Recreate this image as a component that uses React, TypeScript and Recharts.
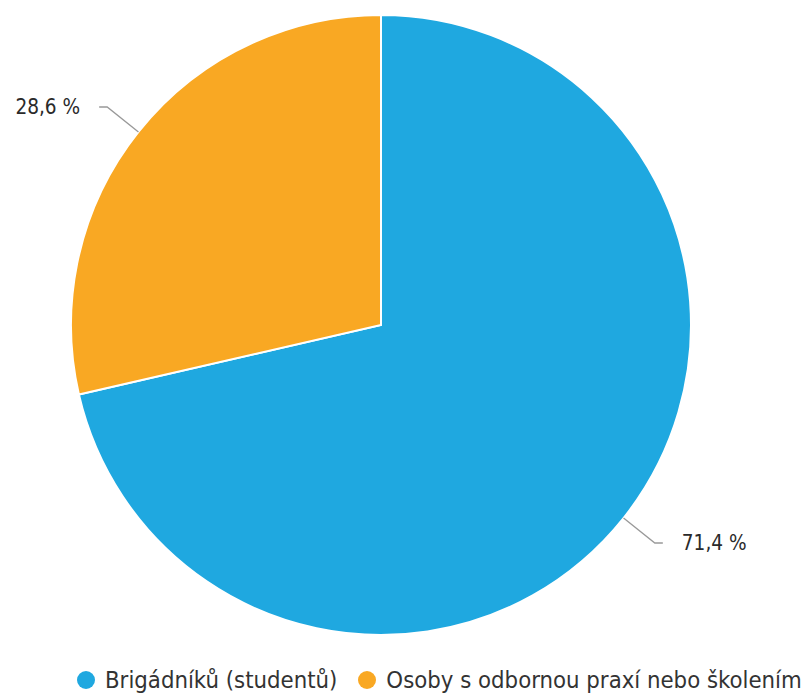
import { PieChart, Pie, Cell, Legend } from "recharts";

const categories = ["Brigádníků (studentů)", "Osoby s odbornou praxí nebo školením"];
const shares = [71.4, 28.6];
const colors = ["#1fa8e0", "#f9a823"];

const data = categories.map((name, i) => ({ name, value: shares[i] }));

const RAD = Math.PI / 180;
const FONT = "'DejaVu Sans Condensed', 'DejaVu Sans', sans-serif";

function renderLabel(props: any) {
  const { cx, cy, midAngle, outerRadius, value } = props;
  const cos = Math.cos(-midAngle * RAD);
  const sin = Math.sin(-midAngle * RAD);
  const sx = cx + outerRadius * cos;
  const sy = cy + outerRadius * sin;
  const mx = cx + (outerRadius + 40) * cos;
  const my = cy + (outerRadius + 40) * sin;
  const dir = cos >= 0 ? 1 : -1;
  const ex = mx + dir * 8;
  const tx = ex + dir * 19;
  return (
    <g>
      <path
        d={`M${sx},${sy}L${mx},${my}L${ex},${my}`}
        stroke="#999"
        strokeWidth={1.3}
        fill="none"
      />
      <text
        x={tx}
        y={my}
        dy={7}
        textAnchor={dir > 0 ? "start" : "end"}
        fill="#2a2a2a"
        fontSize={20.6}
        fontFamily={FONT}
      >
        {value.toFixed(1).replace(".", ",")} %
      </text>
    </g>
  );
}

function renderLegend() {
  return (
    <div style={{ display: "flex", alignItems: "center", fontFamily: FONT, fontSize: 23.7, color: "#333", whiteSpace: "nowrap" }}>
      {categories.map((c, i) => (
        <span key={c} style={{ display: "flex", alignItems: "center", marginRight: 21 }}>
          <svg width={18} height={18} style={{ marginRight: 10 }}>
            <circle cx={9} cy={9} r={9} fill={colors[i]} />
          </svg>
          {c}
        </span>
      ))}
    </div>
  );
}

export default function App() {
  return (
    <div style={{ position: "absolute", left: 0, top: 0, background: "#fff" }}>
      <PieChart width={808} height={697}>
        <Pie
          data={data}
          dataKey="value"
          nameKey="name"
          cx={376}
          cy={320}
          outerRadius={310}
          startAngle={90}
          endAngle={-270}
          stroke="#fff"
          strokeWidth={2}
          label={renderLabel}
          labelLine={false}
          isAnimationActive={false}
        >
          {data.map((d, i) => (
            <Cell key={d.name} fill={colors[i]} />
          ))}
        </Pie>
        <Legend
          content={renderLegend}
          wrapperStyle={{ left: 77, top: 666, width: 800 }}
        />
      </PieChart>
    </div>
  );
}
